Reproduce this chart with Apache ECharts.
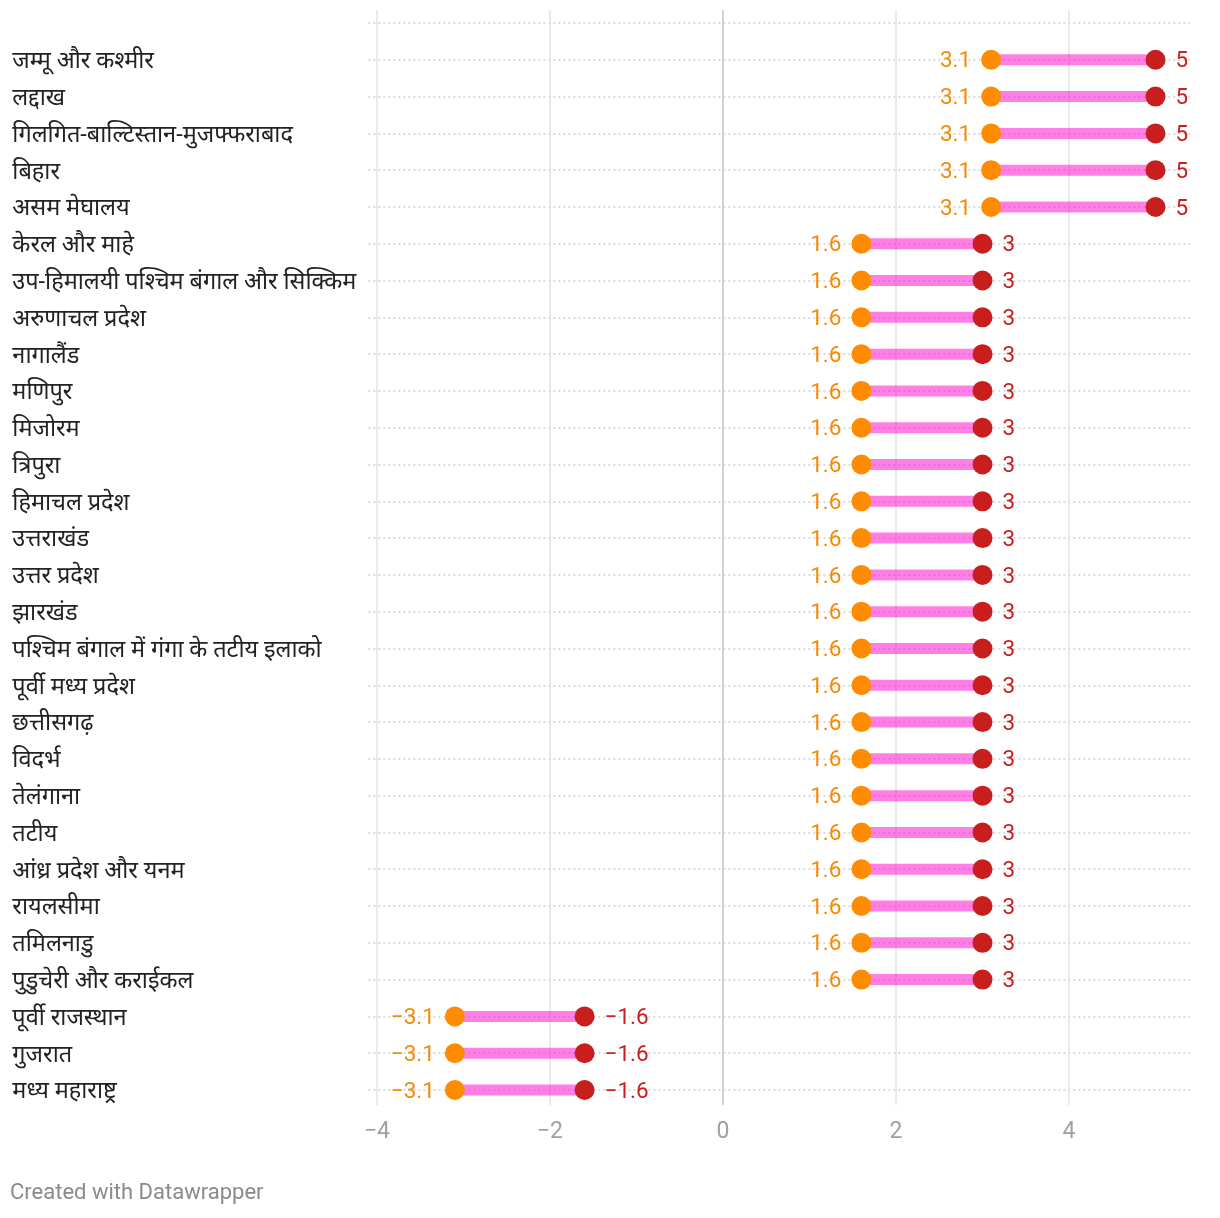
<!DOCTYPE html>
<html>
<head>
<meta charset="utf-8">
<script src="https://cdn.jsdelivr.net/npm/echarts@6/dist/echarts.min.js"></script>
<style>
html,body{margin:0;padding:0;background:#fff;}
#chart{width:1220px;height:1218px;}
</style>
</head>
<body>
<div id="chart"></div>
<script>
const categories = [
  'जम्मू और कश्मीर','लद्दाख','गिलगित-बाल्टिस्तान-मुजफ्फराबाद','बिहार','असम मेघालय',
  'केरल और माहे','उप-हिमालयी पश्चिम बंगाल और सिक्किम','अरुणाचल प्रदेश','नागालैंड','मणिपुर',
  'मिजोरम','त्रिपुरा','हिमाचल प्रदेश','उत्तराखंड','उत्तर प्रदेश','झारखंड',
  'पश्चिम बंगाल में गंगा के तटीय इलाको','पूर्वी मध्य प्रदेश','छत्तीसगढ़','विदर्भ','तेलंगाना',
  'तटीय','आंध्र प्रदेश और यनम','रायलसीमा','तमिलनाडु','पुडुचेरी और कराईकल',
  'पूर्वी राजस्थान','गुजरात','मध्य महाराष्ट्र'
];
const startValues = [3.1,3.1,3.1,3.1,3.1,
  1.6,1.6,1.6,1.6,1.6,1.6,1.6,1.6,1.6,1.6,1.6,1.6,1.6,1.6,1.6,1.6,1.6,1.6,1.6,1.6,1.6,
  -3.1,-3.1,-3.1];
const endValues = [5,5,5,5,5,
  3,3,3,3,3,3,3,3,3,3,3,3,3,3,3,3,3,3,3,3,3,
  -1.6,-1.6,-1.6];
const xTicks = [-4,-2,0,2,4];

const fmt = v => String(v).replace('-', '\u2212');
const FONT = 'Roboto, "Noto Sans", "DejaVu Sans", sans-serif';

const axisCats = [''].concat(categories);
const rangeData = categories.map((c,i) => [startValues[i], endValues[i], c]);
const startData = categories.map((c,i) => [startValues[i], c]);
const endData = categories.map((c,i) => [endValues[i], c]);

const chart = echarts.init(document.getElementById('chart'), null, {renderer:'canvas'});
chart.setOption({
  animation:false,
  backgroundColor:'#fff',
  textStyle:{fontFamily:FONT},
  title:{
    text:'Created with Datawrapper', left:10, top:1182, padding:0,
    textStyle:{fontSize:22, fontWeight:'normal', color:'#8a8a8a', fontFamily:FONT}
  },
  grid:[
    {left:377, right:151, top:10, bottom:113},
    {left:368.35, right:29.9, top:23, bottom:128}
  ],
  xAxis:[
    {
      gridIndex:0, type:'value', min:xTicks[0], max:xTicks[xTicks.length-1], interval:2,
      axisLine:{show:false}, axisTick:{show:false},
      splitLine:{show:true, lineStyle:{color:xTicks.map(v => v===0 ? '#c4c4c4' : '#e3e3e3'), width:1.5}},
      axisLabel:{formatter:fmt, color:'#a0a0a0', fontSize:23, margin:16, fontFamily:FONT}
    },
    {
      gridIndex:1, type:'value', min:-4.1, max:5.4, show:false,
      splitLine:{show:false}
    }
  ],
  yAxis:[
    {gridIndex:0, type:'value', show:false, splitLine:{show:false}},
    {
      gridIndex:1, type:'category', data:axisCats, inverse:true, boundaryGap:false,
      axisLine:{show:false}, axisTick:{show:false},
      axisLabel:{align:'left', margin:356, interval:0,
        formatter: v => v ? '{c|' + v + '}' : '',
        rich:{c:{fontSize:23.5, color:'#222', fontFamily:FONT, padding:[5,0,0,0]}}},
      splitLine:{show:true, interval:0, lineStyle:{color:'#cfcfcf', width:1.5, type:[2,3]}}
    }
  ],
  series:[
    {
      type:'custom', xAxisIndex:1, yAxisIndex:1, data:rangeData,
      encode:{x:[0,1], y:2},
      renderItem:function(params, api){
        const p1 = api.coord([api.value(0), api.value(2)]);
        const p2 = api.coord([api.value(1), api.value(2)]);
        return {type:'line', shape:{x1:p1[0], y1:p1[1], x2:p2[0], y2:p2[1]},
          style:{stroke:'rgba(255,0,204,0.5)', lineWidth:11}};
      },
      z:2
    },
    {
      type:'scatter', xAxisIndex:1, yAxisIndex:1, data:startData, symbolSize:20,
      itemStyle:{color:'#ff8c00', opacity:1},
      label:{show:true, position:'left', distance:10, offset:[0,2], formatter:p => fmt(p.value[0]),
        color:'#f58a05', fontSize:22.5, fontFamily:FONT},
      z:3
    },
    {
      type:'scatter', xAxisIndex:1, yAxisIndex:1, data:endData, symbolSize:20,
      itemStyle:{color:'#c81e1e', opacity:1},
      label:{show:true, position:'right', distance:10, offset:[0,2], formatter:p => fmt(p.value[0]),
        color:'#c81e1e', fontSize:22.5, fontFamily:FONT},
      z:3
    }
  ]
});
</script>
</body>
</html>
